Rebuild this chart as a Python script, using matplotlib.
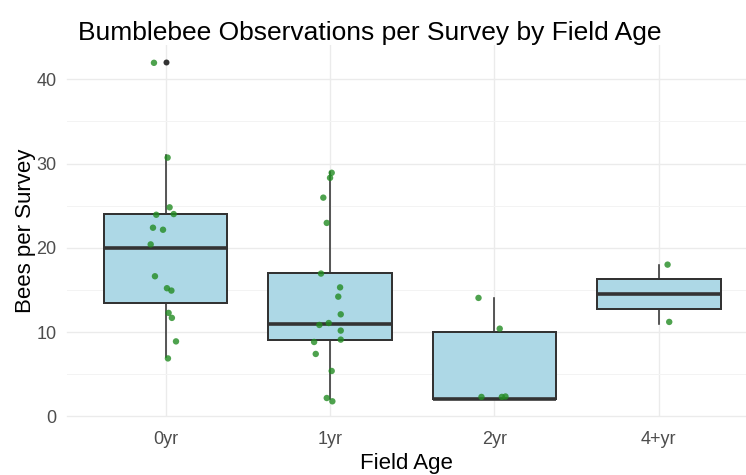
import matplotlib
matplotlib.use("Agg")
import matplotlib.pyplot as plt
import numpy as np

plt.rcParams['font.family'] = ['Liberation Sans', 'DejaVu Sans']

# ---- data ----
groups = ["0yr", "1yr", "2yr", "4+yr"]
bees_0yr = [42, 31, 25, 24, 24, 22, 22, 20, 17, 15, 15, 12, 12, 9, 7]
bees_1yr = [29, 28, 26, 23, 17, 15, 14, 12, 11, 11, 10, 9, 9, 7, 5, 2, 2]
bees_2yr = [14, 10, 2, 2, 2]
bees_4yr = [18, 11]

# jitter offsets as seen in the picture (x in category units, y in bees)
jx_0yr = [-0.071, 0.012, 0.024, -0.057, 0.049, -0.077, -0.016, -0.091, -0.065, 0.008, 0.035, 0.018, 0.038, 0.063, 0.014]
jy_0yr = [-0.05, -0.3, -0.2, -0.08, 0.0, 0.38, 0.14, 0.4, -0.38, 0.2, -0.08, 0.27, -0.32, -0.11, -0.13]
jx_1yr = [0.010, 0.0, -0.041, -0.020, -0.055, 0.061, 0.050, 0.065, -0.065, -0.008, 0.065, 0.065, -0.097, -0.087, 0.010, -0.020, 0.014]
jy_1yr = [-0.1, 0.3, -0.05, -0.05, -0.06, 0.3, 0.2, 0.1, -0.16, 0.07, 0.17, 0.1, -0.18, 0.4, 0.38, 0.17, -0.22]
jx_2yr = [-0.097, 0.032, -0.079, 0.045, 0.067]
jy_2yr = [0.05, 0.4, 0.3, 0.3, 0.35]
jx_4yr = [0.053, 0.063]
jy_4yr = [0.0, 0.2]

values = [bees_0yr, bees_1yr, bees_2yr, bees_4yr]
jitter_x = [jx_0yr, jx_1yr, jx_2yr, jx_4yr]
jitter_y = [jy_0yr, jy_1yr, jy_2yr, jy_4yr]

W, H = 746, 475
fig = plt.figure(figsize=(W / 100, H / 100), dpi=100)

# panel in pixel coordinates
left, right, top, bottom = 67, 746, 44.7, 416.3
ax = fig.add_axes([left / W, 1 - bottom / H, (right - left) / W, (bottom - top) / H])

positions = np.arange(1, len(groups) + 1)
dark = "#333333"
px = 0.72  # points per pixel at 100 dpi

bp = ax.boxplot(values, positions=positions, widths=0.75, patch_artist=True,
                whis=1.5, showcaps=False,
                boxprops=dict(facecolor="#ADD8E6", edgecolor=dark, linewidth=2 * px),
                medianprops=dict(color=dark, linewidth=3.6 * px, solid_capstyle="butt"),
                whiskerprops=dict(color=dark, linewidth=1.6 * px),
                flierprops=dict(marker="o", markerfacecolor=dark, markeredgecolor="none",
                                markersize=6 * px),
                zorder=2)

for i, (vals, jx, jy) in enumerate(zip(values, jitter_x, jitter_y)):
    xs = positions[i] + np.array(jx)
    ys = np.array(vals, dtype=float) + np.array(jy)
    ax.scatter(xs, ys, s=(6.4 * px) ** 2, color="#228B22", alpha=0.8,
               edgecolors="none", zorder=4, clip_on=False)

ax.set_xlim(0.4, 4.53)
ax.set_ylim(0, 44.1)
ax.set_xticks(positions)
ax.set_xticklabels(groups)
ax.set_yticks([0, 10, 20, 30, 40])
ax.set_yticks([5, 15, 25, 35], minor=True)

for s in ax.spines.values():
    s.set_visible(False)
ax.set_facecolor("white")
ax.grid(True, which="major", color="#EBEBEB", linewidth=1.4 * px, zorder=0)
ax.grid(True, which="minor", axis="y", color="#F3F3F3", linewidth=1.0 * px, zorder=0)
for gl in ax.get_ygridlines():
    gl.set_clip_on(False)
ax.set_axisbelow(True)
ax.tick_params(axis="both", which="both", length=0, colors="#4D4D4D", labelsize=13)
ax.tick_params(axis="x", pad=10.5)
ax.tick_params(axis="y", pad=7.5)

ax.set_xlabel("Field Age", fontsize=16, color="black", labelpad=4)
ax.set_ylabel("Bees per Survey", fontsize=16, color="black", labelpad=0.5)

fig.text(78 / W, 1 - 40 / H, "Bumblebee Observations per Survey by Field Age",
         fontsize=19, color="black", ha="left", va="baseline")

fig.savefig("out.png", dpi=100, facecolor="white")
